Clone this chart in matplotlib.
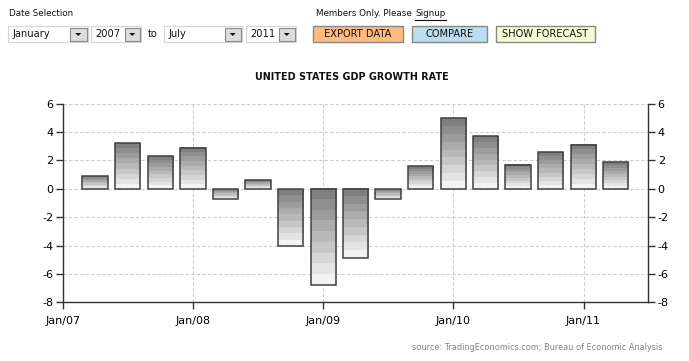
import matplotlib
matplotlib.use('Agg')
import matplotlib.pyplot as plt
import matplotlib.dates as mdates
from matplotlib.patches import Rectangle, Polygon
from matplotlib.colors import ListedColormap
import numpy as np
import datetime as dt

# ---- data ----
quarter_dates = ['2007-04-01', '2007-07-01', '2007-10-01', '2008-01-01',
                 '2008-04-01', '2008-07-01', '2008-10-01', '2009-01-01',
                 '2009-04-01', '2009-07-01', '2009-10-01', '2010-01-01',
                 '2010-04-01', '2010-07-01', '2010-10-01', '2011-01-01',
                 '2011-04-01']
gdp_growth = [0.9, 3.2, 2.3, 2.9, -0.7, 0.6, -4.0, -6.8, -4.9, -0.7,
              1.6, 5.0, 3.7, 1.7, 2.6, 3.1, 1.9]
year_ticks = ['2007-01-01', '2008-01-01', '2009-01-01', '2010-01-01', '2011-01-01']
year_tick_labels = ['Jan/07', 'Jan/08', 'Jan/09', 'Jan/10', 'Jan/11']
y_ticks = [-8, -6, -4, -2, 0, 2, 4, 6]
title = 'UNITED STATES GDP GROWTH RATE'
source = 'source: TradingEconomics.com; Bureau of Economic Analysis'

W, H = 689, 361
fig = plt.figure(figsize=(W / 100, H / 100), dpi=100)
fig.patch.set_facecolor('white')


def fx(x):
    return x / W


def fy(y):
    return 1 - y / H


def d2n(s):
    return mdates.date2num(dt.datetime.strptime(s, '%Y-%m-%d'))


# ---- main axes ----
ax_left, ax_right, ax_top, ax_bot = 63, 648, 103.5, 302.3
ax = fig.add_axes([fx(ax_left), fy(ax_bot), (ax_right - ax_left) / W, (ax_bot - ax_top) / H])

xs = [d2n(d) for d in quarter_dates]
bar_w = 71
bars = ax.bar(xs, gdp_growth, width=bar_w, facecolor='none',
              edgecolor='#404040', linewidth=1.1, zorder=4)

levels = np.linspace(0x80, 0xf3, 9) / 255.0
cmap = ListedColormap([(v, v, v) for v in levels])
grad = np.arange(9).reshape(-1, 1)
for b in bars:
    x0 = b.get_x()
    w = b.get_width()
    y0 = b.get_y()
    h = b.get_height()
    lo, hi = min(y0, y0 + h), max(y0, y0 + h)
    ax.imshow(grad, extent=(x0, x0 + w, lo, hi), cmap=cmap, aspect='auto',
              origin='upper', interpolation='nearest', zorder=3)

ax.set_xlim(d2n('2007-01-01'), d2n('2011-07-01'))
ax.set_ylim(-8, 6)
ax.set_xticks([d2n(d) for d in year_ticks])
ax.set_xticklabels(year_tick_labels)
ax.set_yticks(y_ticks)
ax.set_yticklabels([str(v) for v in y_ticks])

ax.grid(True, linestyle=(0, (3, 2)), color='#cccccc', linewidth=0.8, zorder=0)
ax.set_axisbelow(True)

for s in ['left', 'right', 'bottom']:
    ax.spines[s].set_color('#333333')
    ax.spines[s].set_linewidth(1.0)
ax.spines['top'].set_visible(False)

ax.tick_params(axis='y', left=True, right=True, labelleft=True, labelright=True,
               direction='out', length=5, width=1, color='#333333',
               labelsize=8, pad=2)
ax.tick_params(axis='x', direction='out', length=5, width=1, color='#333333',
               labelsize=8, pad=5)

fig.text(fx(352), fy(77), title, ha='center', va='center', fontsize=6.9,
         fontweight='bold', color='#111111')
fig.text(fx(662), fy(347), source, ha='right', va='center', fontsize=5.9,
         color='#808080')

# ---- header controls ----
hdr_fs = 6.3
ctl_fs = 7.1
fig.text(fx(9), fy(14), 'Date Selection', ha='left', va='center', fontsize=hdr_fs, color='#111111')
fig.text(fx(316), fy(14), 'Members Only. Please', ha='left', va='center', fontsize=hdr_fs, color='#111111')
fig.text(fx(415), fy(14), 'Signup', ha='left', va='center', fontsize=hdr_fs, color='#111111')
fig.add_artist(plt.Line2D([fx(415), fx(446)], [fy(19.5), fy(19.5)], color='#111111', lw=0.8,
                          transform=fig.transFigure))


def rect(x0, y0, x1, y1, fc, ec, lw=0.8):
    r = Rectangle((fx(x0), fy(y1)), (x1 - x0) / W, (y1 - y0) / H,
                  transform=fig.transFigure, facecolor=fc, edgecolor=ec, linewidth=lw)
    fig.add_artist(r)


def dropdown(x0, x1, ax0, label):
    y0, y1 = 26, 42
    rect(x0, y0, x1, y1, 'white', '#d4d4d4')
    rect(ax0, y0 + 1.5, x1 - 1.5, y1 - 1.5, '#dcdcdc', '#8a8a8a')
    cx = (ax0 + x1 - 1.5) / 2
    cy = 34.5
    tri = Polygon([[fx(cx - 3), fy(cy - 1.5)], [fx(cx + 3), fy(cy - 1.5)], [fx(cx), fy(cy + 1.5)]],
                  closed=True, transform=fig.transFigure, facecolor='#111111', edgecolor='none')
    fig.add_artist(tri)
    fig.text(fx(x0 + 4), fy(34), label, ha='left', va='center', fontsize=ctl_fs, color='#111111')


dropdown(8, 88, 70, 'January')
dropdown(91, 141, 125, '2007')
fig.text(fx(148), fy(34), 'to', ha='left', va='center', fontsize=ctl_fs, color='#111111')
dropdown(164, 242, 225, 'July')
dropdown(246, 296, 279, '2011')


def button(x0, x1, label, fc):
    rect(x0, 26, x1, 42, fc, '#888888', 1.0)
    fig.text(fx((x0 + x1) / 2), fy(34), label, ha='center', va='center', fontsize=ctl_fs,
             color='#111111')


button(313, 403, 'EXPORT DATA', '#ffbb80')
button(412, 487, 'COMPARE', '#bcdcf0')
button(496, 595, 'SHOW FORECAST', '#f6fdd6')

fig.savefig('out.png', dpi=100, facecolor='white')
